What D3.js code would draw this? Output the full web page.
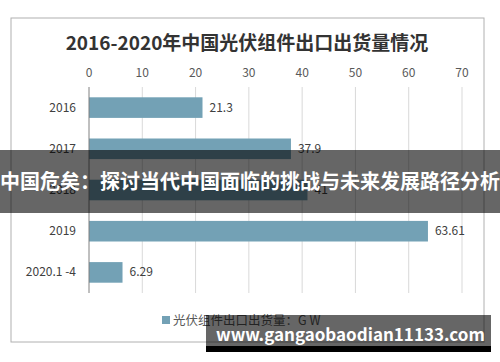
<!DOCTYPE html>
<html>
  <head>
    <meta charset="utf-8">
    <title>光伏组件出口出货量</title>
    <script src="https://d3js.org/d3.v7.min.js"></script>
    <style>
      body { margin: 0; background: #fff; }
      text { font-family: "Noto Sans CJK SC", "Open Sans", sans-serif; }
    </style>
  </head>
  <body>
    <script>
      var categories = ["2016", "2017", "2018", "2019", "2020.1 -4"];
      var values     = [21.3, 37.9, 41, 63.61, 6.29];
      var labels     = ["21.3", "37.9", "41", "63.61", "6.29"];
      var ticks      = [0, 10, 20, 30, 40, 50, 60, 70];

      var svg = d3.select("body").append("svg")
        .attr("width",  500)
        .attr("height", 362);

      // chart frame
      svg.append("rect")
        .attr("x", 11).attr("y", 18)
        .attr("width", 473).attr("height", 324)
        .attr("fill", "#fff")
        .attr("stroke", "#b0b0b0");

      svg.append("text")
        .attr("x", 247).attr("y", 50)
        .attr("text-anchor", "middle")
        .attr("font-size", 19).attr("font-weight", "bold")
        .attr("fill", "#333")
        .text("2016-2020年中国光伏组件出口出货量情况");

      var xScale = d3.scaleLinear().domain([0, 70]).range([89, 462]);
      var yScale = d3.scaleBand().domain(categories).range([87, 293]).paddingInner(0.5).paddingOuter(0.25);

      // grid lines
      svg.selectAll("line.grid")
        .data(ticks.slice(1))
        .enter().append("line")
          .attr("class", "grid")
          .attr("x1", function (d) { return xScale(d); })
          .attr("x2", function (d) { return xScale(d); })
          .attr("y1", 87).attr("y2", 293)
          .attr("stroke", "#d9d9d9");

      // top axis labels
      svg.selectAll("text.tick")
        .data(ticks)
        .enter().append("text")
          .attr("class", "tick")
          .attr("x", function (d) { return xScale(d); })
          .attr("y", 77)
          .attr("text-anchor", "middle")
          .attr("font-size", 12)
          .attr("fill", "#595959")
          .text(function (d) { return d; });

      svg.selectAll("rect.bar")
        .data(values)
        .enter().append("rect")
          .attr("class", "bar")
          .attr("x", xScale(0))
          .attr("y", function (d, i) { return yScale(categories[i]); })
          .attr("width", function (d) { return xScale(d) - xScale(0); })
          .attr("height", yScale.bandwidth())
          .attr("fill", "#73a1b5");

      svg.selectAll("text.val")
        .data(values)
        .enter().append("text")
          .attr("class", "val")
          .attr("x", function (d) { return xScale(d) + 7; })
          .attr("y", function (d, i) { return yScale(categories[i]) + yScale.bandwidth() / 2 + 4; })
          .attr("font-size", 12)
          .attr("fill", "#404040")
          .text(function (d, i) { return labels[i]; });

      svg.selectAll("text.cat")
        .data(categories)
        .enter().append("text")
          .attr("class", "cat")
          .attr("x", 76)
          .attr("y", function (d) { return yScale(d) + yScale.bandwidth() / 2 + 4; })
          .attr("text-anchor", "end")
          .attr("font-size", 12)
          .attr("fill", "#404040")
          .text(function (d) { return d; });

      // axis line
      svg.append("line")
        .attr("x1", xScale(0)).attr("x2", xScale(0))
        .attr("y1", 87).attr("y2", 293)
        .attr("stroke", "#808080");

      // legend
      svg.append("rect")
        .attr("x", 162).attr("y", 316)
        .attr("width", 8).attr("height", 8)
        .attr("fill", "#73a1b5");
      svg.append("text")
        .attr("x", 173).attr("y", 325)
        .attr("font-size", 12.5)
        .attr("fill", "#595959")
        .text("光伏组件出口出货量：G W");

      // overlay banner
      svg.append("rect")
        .attr("x", 0).attr("y", 150)
        .attr("width", 500).attr("height", 63)
        .attr("fill", "#000").attr("fill-opacity", 0.6);
      svg.append("text")
        .attr("x", 250).attr("y", 189)
        .attr("text-anchor", "middle")
        .attr("font-size", 20).attr("font-weight", "bold")
        .attr("fill", "#fff")
        .text("中国危矣：探讨当代中国面临的挑战与未来发展路径分析");

      // watermark
      svg.append("rect")
        .attr("x", 206).attr("y", 315)
        .attr("width", 285).attr("height", 31)
        .attr("fill", "#000").attr("fill-opacity", 0.6);
      svg.append("rect")
        .attr("x", 206).attr("y", 346)
        .attr("width", 285).attr("height", 6)
        .attr("fill", "#000");
      svg.append("text")
        .attr("x", 216).attr("y", 341)
        .attr("font-size", 17).attr("font-weight", "bold")
        .attr("fill", "#fff")
        .attr("font-family", "Open Sans, sans-serif")
        .text("www.gangaobaodian11133.com");
    </script>
  </body>
</html>
